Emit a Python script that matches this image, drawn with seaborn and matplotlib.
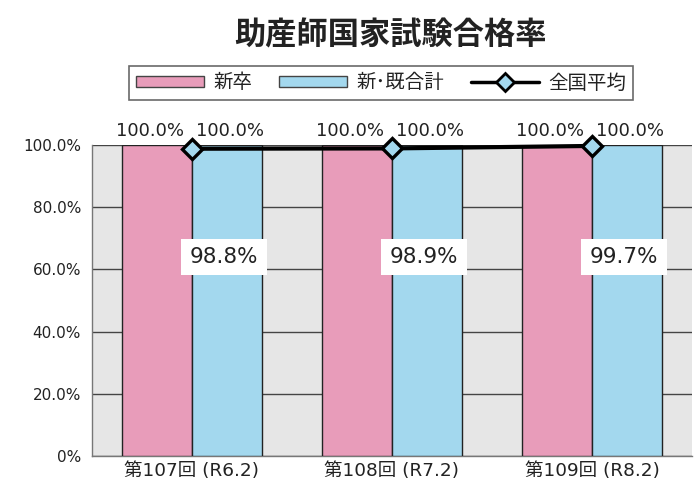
import matplotlib
matplotlib.use("Agg")
import matplotlib.pyplot as plt
import seaborn as sns
import pandas as pd
from matplotlib.patches import Patch
from matplotlib.lines import Line2D

categories = ["第107回 (R6.2)", "第108回 (R7.2)", "第109回 (R8.2)"]
series_names = ["新卒", "新･既合計"]
shinsotsu = [100.0, 100.0, 100.0]
total = [100.0, 100.0, 100.0]
national_avg = [98.8, 98.9, 99.7]
avg_name = "全国平均"
yticks = [0, 20, 40, 60, 80, 100]
ytick_labels = ["0%", "20.0%", "40.0%", "60.0%", "80.0%", "100.0%"]
title = "助産師国家試験合格率"

pink = "#e89cba"
blue = "#a3d8ee"
txt = "#222222"

sns.set_theme(style="white")
mixed = ["DejaVu Sans", "Noto Sans CJK JP"]
cjk = ["Noto Sans CJK JP", "DejaVu Sans"]
plt.rcParams["font.family"] = mixed

df = pd.DataFrame({
    "cat": categories * 2,
    "series": [series_names[0]] * 3 + [series_names[1]] * 3,
    "value": shinsotsu + total,
})

fig = plt.figure(figsize=(7, 5), dpi=100)
ax = fig.add_axes([92 / 700, 44 / 500, 600 / 700, 311 / 500])
ax.set_facecolor("#e6e6e6")

sns.barplot(data=df, x="cat", y="value", hue="series", order=categories,
            hue_order=series_names, palette=[pink, blue], width=0.7,
            edgecolor="#222222", linewidth=1.0, saturation=1, ax=ax,
            legend=False, zorder=3)

n_lines_before = len(ax.lines)
sns.pointplot(x=categories, y=national_avg, order=categories, color="black",
              markers="D", linestyles="-", ax=ax, markersize=10.5,
              markerfacecolor=blue, markeredgecolor="black",
              markeredgewidth=2.4, linewidth=3.0, zorder=5)
for ln in ax.lines[n_lines_before:]:
    ln.set_clip_on(False)

ax.set_ylim(0, 100)
ax.set_xlim(-0.5, 2.5)
ax.set_yticks(yticks)
ax.set_yticklabels(ytick_labels, fontsize=11, color=txt)
for lbl in ax.get_xticklabels():
    lbl.set_fontsize(13.3)
    lbl.set_color(txt)
ax.tick_params(axis="x", length=0, pad=4)
ax.tick_params(axis="y", length=0, pad=8)
ax.set_xlabel("")
ax.set_ylabel("")
ax.yaxis.grid(True, color="#444444", linewidth=1.0, zorder=0)
ax.set_axisbelow(True)
for s in ["top", "right"]:
    ax.spines[s].set_visible(False)
for s in ["left", "bottom"]:
    ax.spines[s].set_color("#777777")
    ax.spines[s].set_linewidth(1.0)

# bar value labels
for i in range(len(categories)):
    ax.text(i - 0.21, shinsotsu[i] + 4.4, f"{shinsotsu[i]:.1f}%", ha="center",
            va="center", fontsize=13, color=txt, zorder=6)
    ax.text(i + 0.19, total[i] + 4.4, f"{total[i]:.1f}%", ha="center",
            va="center", fontsize=13, color=txt, zorder=6)
    ax.text(i + 0.16, 64, f"{national_avg[i]:.1f}%", ha="center", va="center",
            fontsize=15.5, color=txt, zorder=6,
            bbox=dict(facecolor="white", edgecolor="none", pad=6))

fig.text(390 / 700, 1 - 35 / 500, title, ha="center", va="center",
         fontsize=22.5, fontweight="bold", color=txt, family=cjk)

handles = [
    Patch(facecolor=pink, edgecolor="#444444", linewidth=1.0),
    Patch(facecolor=blue, edgecolor="#444444", linewidth=1.0),
    Line2D([0], [0], color="black", linewidth=2.5, marker="D", markersize=9,
           markerfacecolor=blue, markeredgecolor="black", markeredgewidth=2),
]
leg = fig.legend(handles, series_names + [avg_name], ncol=3,
                 loc="center", bbox_to_anchor=(381 / 700, 1 - 83 / 500),
                 prop={"family": cjk, "size": 14}, frameon=True,
                 fancybox=False, edgecolor="#444444", handlelength=3.5,
                 handleheight=0.5, columnspacing=1.35, borderpad=0.35,
                 handletextpad=0.5)
leg.get_frame().set_linewidth(1.2)
for t in leg.get_texts():
    t.set_color(txt)

fig.savefig("out.png", dpi=100)
